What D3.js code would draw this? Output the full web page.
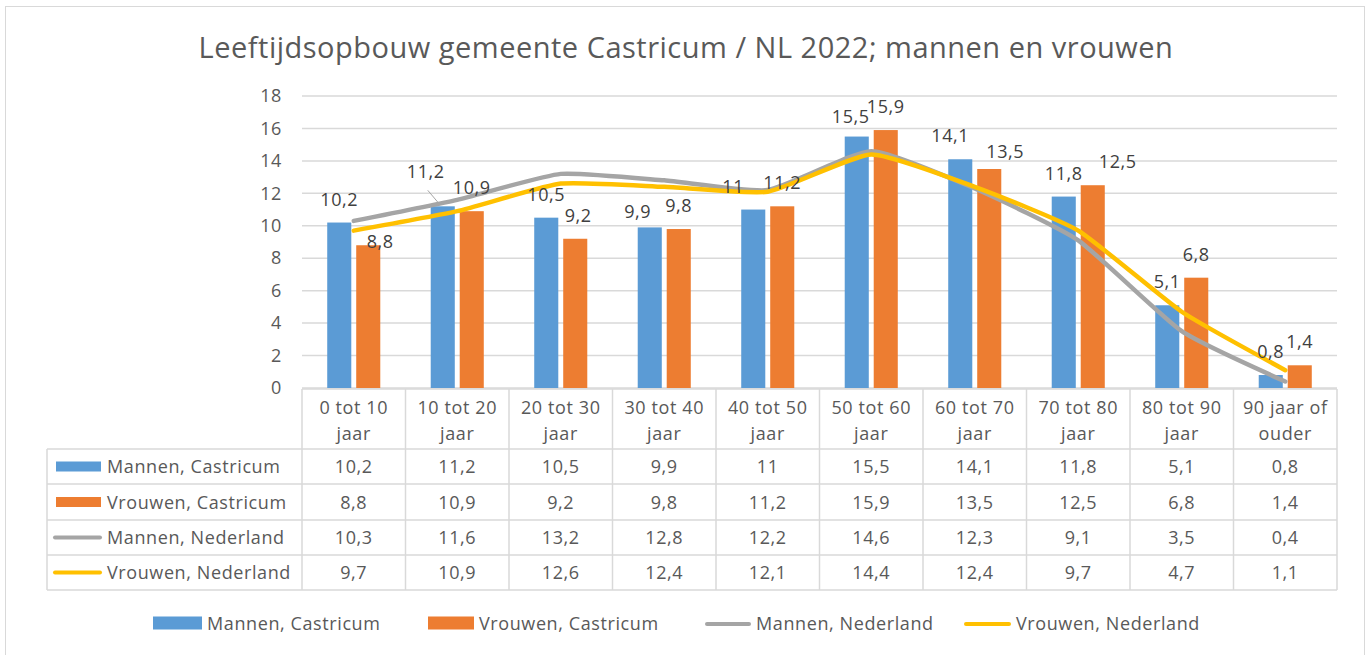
<!DOCTYPE html>
<html>
<head>
<meta charset="utf-8">
<script src="https://cdn.jsdelivr.net/npm/d3@7"></script>
<style>
  body { margin: 0; background: #fff; }
  svg text { font-family: "Open Sans", "Liberation Sans", sans-serif; fill: #595959; letter-spacing: 0.6px; }
</style>
</head>
<body>
<svg id="chart" width="1369" height="655"></svg>
<script>
// chart data
var categories = ["0 tot 10 jaar", "10 tot 20 jaar", "20 tot 30 jaar", "30 tot 40 jaar", "40 tot 50 jaar",
  "50 tot 60 jaar", "60 tot 70 jaar", "70 tot 80 jaar", "80 tot 90 jaar", "90 jaar of ouder"];
var mannenCastricum = [10.2, 11.2, 10.5, 9.9, 11, 15.5, 14.1, 11.8, 5.1, 0.8];
var vrouwenCastricum = [8.8, 10.9, 9.2, 9.8, 11.2, 15.9, 13.5, 12.5, 6.8, 1.4];
var mannenNederland = [10.3, 11.6, 13.2, 12.8, 12.2, 14.6, 12.3, 9.1, 3.5, 0.4];
var vrouwenNederland = [9.7, 10.9, 12.6, 12.4, 12.1, 14.4, 12.4, 9.7, 4.7, 1.1];
var yTicks = [0, 2, 4, 6, 8, 10, 12, 14, 16, 18];
var seriesNames = ["Mannen, Castricum", "Vrouwen, Castricum", "Mannen, Nederland", "Vrouwen, Nederland"];

var colors = ["#5B9BD5", "#ED7D31", "#A5A5A5", "#FFC000"];
var svg = d3.select("#chart");

var plotLeft = 302, plotRight = 1337, plotTop = 96, plotBottom = 388;
var tableLeft = 47;
var rowY = [389, 449, 484, 520, 555, 590];

function fmt(v) { return String(v).replace(".", ","); }

// outer border
svg.append("rect")
  .attr("x", 5.5).attr("y", 6.5).attr("width", 1359).attr("height", 670)
  .attr("fill", "none").attr("stroke", "#d9d9d9").attr("stroke-width", 1);

svg.append("text")
  .attr("x", 686).attr("y", 58)
  .attr("text-anchor", "middle")
  .style("font-size", "29px")
  .style("letter-spacing", "0.5px")
  .text("Leeftijdsopbouw gemeente Castricum / NL 2022; mannen en vrouwen");

var x = d3.scaleBand().domain(categories).range([plotLeft, plotRight]);
var x1 = d3.scaleBand().domain([0, 1]).range([0, x.bandwidth()]).paddingInner(0.17).paddingOuter(0.87);
var y = d3.scaleLinear().domain([0, 18]).range([plotBottom, plotTop]);

// gridlines
svg.append("g").selectAll("line")
  .data(yTicks)
  .enter().append("line")
  .attr("x1", plotLeft).attr("x2", plotRight)
  .attr("y1", function(d) { return y(d); })
  .attr("y2", function(d) { return y(d); })
  .attr("stroke", "#d9d9d9").attr("stroke-width", 1.5);

var yAxis = d3.axisLeft(y).tickValues(yTicks).tickSize(0).tickPadding(20);
var yg = svg.append("g")
  .attr("transform", "translate(" + plotLeft + ",0)")
  .call(yAxis);
yg.select(".domain").remove();
yg.selectAll("text")
  .style("font-size", "18px")
  .style("font-family", "\"Open Sans\", sans-serif")
  .attr("fill", "#595959");

// bars
var barSeries = [mannenCastricum, vrouwenCastricum];
barSeries.forEach(function(vals, s) {
  svg.append("g").selectAll("rect")
    .data(vals)
    .enter().append("rect")
    .attr("x", function(d, i) { return x(categories[i]) + x1(s); })
    .attr("y", function(d) { return y(d); })
    .attr("width", x1.bandwidth())
    .attr("height", function(d) { return y(0) - y(d); })
    .attr("fill", colors[s]);
});

// smooth lines
var line = d3.line()
  .x(function(d, i) { return x(categories[i]) + x.bandwidth() / 2; })
  .y(function(d) { return y(d); })
  .curve(d3.curveCardinal.tension(0.5));

[mannenNederland, vrouwenNederland].forEach(function(vals, s) {
  svg.append("path")
    .datum(vals)
    .attr("d", line)
    .attr("fill", "none")
    .attr("stroke", colors[s + 2])
    .attr("stroke-width", 4.5)
    .attr("stroke-linejoin", "round")
    .attr("stroke-linecap", "round");
});

// data labels (hand-nudged like in the original)
var nudge = [
  [[0, 0], [-17, -11], [0, 0], [-12, 8], [-20, 0], [-6, 3], [-10, 0], [0, 0], [0, 0], [0, 0]],
  [[12, 20], [0, 0], [3, 0], [0, 0], [0, 0], [0, 0], [16, 6], [25, 0], [0, 0], [0, 0]]
];
barSeries.forEach(function(vals, s) {
  svg.append("g").selectAll("text")
    .data(vals)
    .enter().append("text")
    .attr("x", function(d, i) { return x(categories[i]) + x1(s) + x1.bandwidth() / 2 + nudge[s][i][0]; })
    .attr("y", function(d, i) { return y(d) - 17 + nudge[s][i][1]; })
    .attr("text-anchor", "middle")
    .style("font-size", "18px")
    .style("fill", "#404040")
    .text(function(d) { return fmt(d); });
});
// leader line for the moved 11,2 label
svg.append("line")
  .attr("x1", x(categories[1]) + x1(0) + x1.bandwidth() / 2 - 15)
  .attr("y1", y(mannenCastricum[1]) - 16)
  .attr("x2", x(categories[1]) + x1(0) + x1.bandwidth() / 2 - 4)
  .attr("y2", y(mannenCastricum[1]) - 3)
  .attr("stroke", "#a6a6a6").attr("stroke-width", 1);

// data table
var tbl = svg.append("g");
var stroke = "#d9d9d9";
tbl.append("line").attr("x1", plotLeft).attr("x2", plotRight).attr("y1", rowY[0]).attr("y2", rowY[0])
  .attr("stroke", stroke).attr("stroke-width", 1.5);
rowY.slice(1).forEach(function(yy) {
  tbl.append("line").attr("x1", tableLeft).attr("x2", plotRight).attr("y1", yy).attr("y2", yy)
    .attr("stroke", stroke).attr("stroke-width", 1.5);
});
tbl.append("line").attr("x1", tableLeft).attr("x2", tableLeft).attr("y1", rowY[1]).attr("y2", rowY[5])
  .attr("stroke", stroke).attr("stroke-width", 1.5);
x.domain().concat([null]).forEach(function(c) {
  var xx = c === null ? plotRight : x(c);
  tbl.append("line").attr("x1", xx).attr("x2", xx).attr("y1", rowY[0]).attr("y2", rowY[5])
    .attr("stroke", stroke).attr("stroke-width", 1.5);
});

// header: category names on two lines
categories.forEach(function(c) {
  var words = c.split(" ");
  var l2 = words.pop();
  var t = tbl.append("text")
    .attr("text-anchor", "middle")
    .style("font-size", "18px");
  t.append("tspan").attr("x", x(c) + x.bandwidth() / 2).attr("y", 414).text(words.join(" "));
  t.append("tspan").attr("x", x(c) + x.bandwidth() / 2).attr("y", 440).text(l2);
});

var allSeries = [mannenCastricum, vrouwenCastricum, mannenNederland, vrouwenNederland];
allSeries.forEach(function(vals, s) {
  var cy = (rowY[s + 1] + rowY[s + 2]) / 2;
  tbl.append("g").selectAll("text")
    .data(vals)
    .enter().append("text")
    .attr("x", function(d, i) { return x(categories[i]) + x.bandwidth() / 2; })
    .attr("y", cy + 6.5)
    .attr("text-anchor", "middle")
    .style("font-size", "18px")
    .text(function(d) { return fmt(d); });
  // legend key inside the table
  if (s < 2) {
    tbl.append("rect").attr("x", 56).attr("y", cy - 5).attr("width", 45).attr("height", 10).attr("fill", colors[s]);
  } else {
    tbl.append("line").attr("x1", 55).attr("x2", 100).attr("y1", cy).attr("y2", cy)
      .attr("stroke", colors[s]).attr("stroke-width", 4).attr("stroke-linecap", "round");
  }
  tbl.append("text").attr("x", 107).attr("y", cy + 6.5)
    .style("font-size", "18px")
    .text(seriesNames[s]);
});

// bottom legend
var legendX = [153, 428, 705, 964];
var legendW = [49, 46, 46, 47];
seriesNames.forEach(function(name, s) {
  var g = svg.append("g").attr("transform", "translate(" + legendX[s] + ",623)");
  if (s < 2) {
    g.append("rect").attr("x", 0).attr("y", -6.5).attr("width", legendW[s]).attr("height", 13).attr("fill", colors[s]);
  } else {
    g.append("line").attr("x1", 2).attr("x2", legendW[s] - 2).attr("y1", 1).attr("y2", 1)
      .attr("stroke", colors[s]).attr("stroke-width", 4).attr("stroke-linecap", "round");
  }
  g.append("text").attr("x", legendW[s] + 5).attr("y", 6.5)
    .style("font-size", "18px")
    .text(name);
});
</script>
</body>
</html>
